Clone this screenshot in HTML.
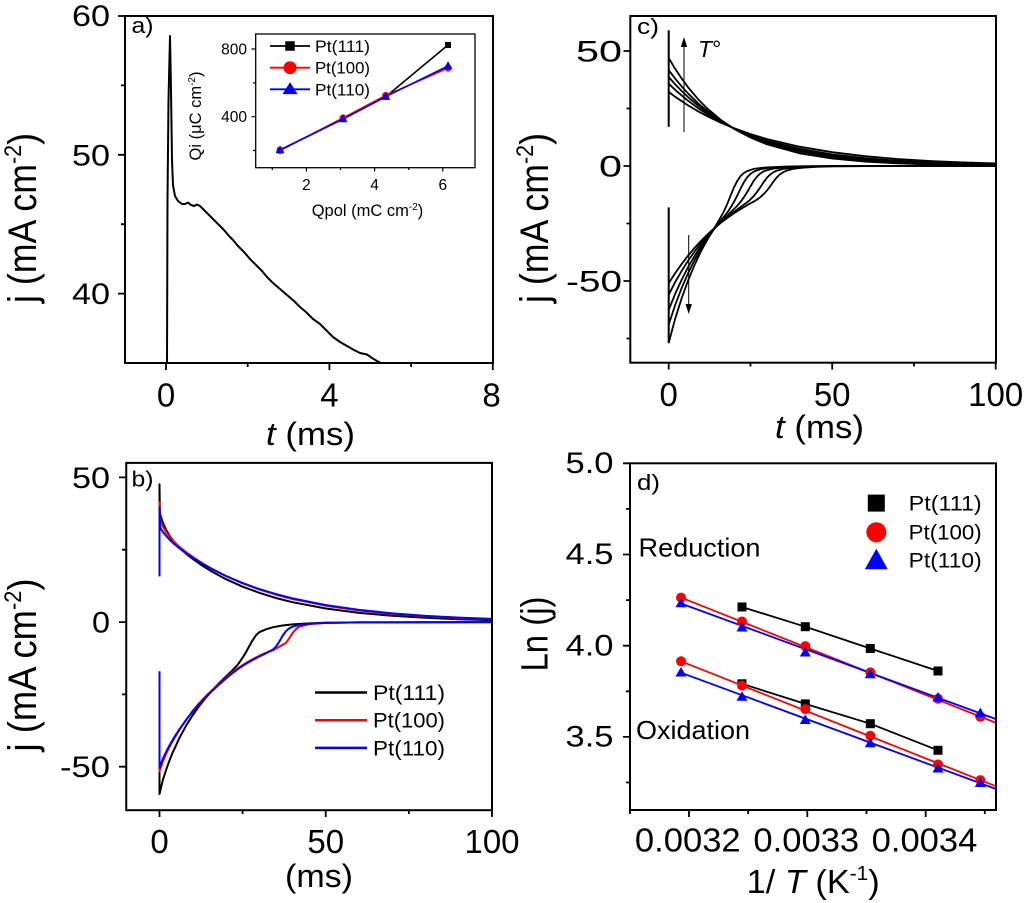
<!DOCTYPE html>
<html><head><meta charset="utf-8">
<style>
html,body{margin:0;padding:0;background:#fff;}
svg{display:block;}
text{font-family:"Liberation Sans",Arial,sans-serif;fill:#000;}
</style></head><body>
<svg width="1024" height="903" viewBox="0 0 1024 903" xmlns="http://www.w3.org/2000/svg">
<defs>
<clipPath id="ca"><rect x="125" y="16" width="368" height="347"/></clipPath>
<clipPath id="cb"><rect x="126.25" y="462.9" width="365.75" height="347.3"/></clipPath>
<clipPath id="cc"><rect x="630.3" y="16" width="365.7" height="346.7"/></clipPath>
<clipPath id="cd"><rect x="630" y="463.3" width="366" height="346.7"/></clipPath>
</defs>
<rect x="0" y="0" width="1024" height="903" fill="#fff"/>

<!-- ===== Panel a data ===== -->
<path clip-path="url(#ca)" fill="none" stroke="#000" stroke-width="2" stroke-linejoin="round" d="M167 363 L167.5 200 L168.5 100 L170 36 L171 90 L172 160 L173 185 L175 196 L178 201 L182 204 L185 204 L188 202.5 L191 205 L194 206 L197 204.5 L200 206 L203 209 L207 213 L212 218 L218 224 L224 230 L229 236 L233 240 L238 246 L244 252 L250 259 L256 265 L262 271 L267 277 L273 283 L280 289 L287 295 L294 301 L300 307 L306 312 L313 319 L320 324 L327 331 L333 337 L340 342 L347 346 L354 350 L360 353 L367 354.5 L372 358 L377 361 L382 363.5"/>

<!-- ===== Panel b data ===== -->
<g clip-path="url(#cb)" fill="none" stroke-width="2" stroke-linejoin="round">
<path stroke="#000" d="M159.5 575.8 L159.5 484.3 L159.9 512.1 L160.5 515.6 L162.8 522.4 L166.2 529.9 L169.5 535.7 L172.8 540.3 L179.5 547.7 L186.1 553.7 L192.8 558.9 L202.7 565.9 L212.7 572.0 L226.0 579.2 L242.6 586.7 L259.3 592.8 L275.9 598.0 L292.5 602.2 L325.8 608.5 L359.0 612.9 L392.3 615.8 L425.5 617.8 L458.8 619.2 L492 620.1"/>
<path stroke="#000" d="M159.5 672 L159.5 794.0 L162.8 780.1 L166.2 769.7 L169.5 760.4 L172.8 752.3 L179.5 737.8 L186.1 725.7 L192.8 715.0 L199.4 705.7 L206.1 697.3 L212.7 689.8 L219.4 682.8 L226.0 676.5 L232.7 670.1 L236.0 666.6 L239.3 662.6 L242.6 657.7 L246.0 652.2 L249.3 646.1 L252.6 640.3 L255.9 635.4 L259.3 632.2 L265.9 629.3 L272.6 627.3 L282.5 625.5 L292.5 624.4 L309.1 623.4 L325.8 622.8 L359.0 622.4 L492 622.1"/>
<path stroke="#f00" d="M159.5 575.8 L159.5 502.0 L159.9 518.8 L160.5 521.3 L162.8 526.4 L166.2 532.2 L169.5 536.8 L172.8 540.6 L179.5 546.9 L186.1 552.2 L192.8 557.0 L202.7 563.5 L212.7 569.2 L226.0 576.1 L242.6 583.3 L259.3 589.5 L275.9 594.6 L292.5 599.0 L325.8 605.7 L359.0 610.5 L392.3 613.9 L425.5 616.3 L458.8 618.0 L492 619.15"/>
<path stroke="#f00" d="M159.5 672 L159.5 771.1 L162.8 761.6 L166.2 753.7 L169.5 746.8 L172.8 740.7 L179.5 729.7 L186.1 720.2 L192.8 710.7 L199.4 702.9 L206.1 695.9 L212.7 689.6 L219.4 683.5 L226.0 677.7 L232.7 672.2 L239.3 667.3 L246.0 662.9 L252.6 659.2 L259.3 655.7 L265.9 652.8 L272.6 650.4 L275.9 648.7 L279.2 646.7 L282.5 644.9 L285.9 642.9 L289.2 638.3 L292.5 633.1 L295.8 629.3 L299.2 626.7 L309.1 624.1 L325.8 622.9 L359.0 622.4 L492 622.1"/>
<path stroke="#00f" d="M159.5 576.4 L159.5 507.2 L160.0 525.1 L160.5 528.3 L162.8 531.8 L166.2 536.0 L169.5 539.6 L172.8 542.8 L179.5 548.3 L186.1 553.3 L192.8 557.8 L202.7 563.9 L212.7 569.5 L226.0 576.0 L242.6 583.1 L259.3 589.1 L275.9 594.1 L292.5 598.4 L325.8 605.1 L359.0 609.9 L392.3 613.4 L425.5 615.85 L458.8 617.6 L492 618.9"/>
<path stroke="#00f" d="M159.5 671.3 L159.5 767.6 L162.8 759.0 L166.2 751.7 L169.5 745.4 L172.8 739.6 L179.5 729.1 L186.1 719.9 L192.8 711.5 L199.4 703.7 L206.1 696.7 L212.7 690.4 L219.4 684.3 L226.0 678.5 L232.7 673.0 L239.3 668.1 L246.0 663.7 L252.6 660.0 L259.3 656.5 L265.9 653.3 L272.6 649.8 L275.9 646.7 L279.2 641.8 L282.5 636.0 L285.9 631.3 L289.2 628.4 L292.5 626.7 L299.2 625.0 L309.1 623.8 L325.8 622.9 L359.0 622.4 L492 622.1"/>
</g>

<!-- ===== Panel c data ===== -->
<g clip-path="url(#cc)" fill="none" stroke="#000" stroke-width="1.8" stroke-linejoin="round">
<path stroke-width="2" d="M668.7 126.9 L668.7 30.3"/>
<path stroke-width="2" d="M668.7 207.4 L668.7 343.1"/>
<path d="M668.7 57.9 L675.2 68.9 L681.8 78.7 L688.3 87.6 L698.1 99.2 L707.9 109.1 L721.0 120.0 L734.1 128.9 L750.5 137.6 L766.8 144.3 L799.5 153.3 L832.2 158.5 L864.9 161.6 L897.6 163.4 L930.3 164.5 L963.0 165.1 L995.7 165.5"/>
<path d="M668.7 70.1 L675.2 78.7 L681.8 86.6 L688.3 93.7 L698.1 103.3 L707.9 111.5 L721.0 120.9 L734.1 128.7 L750.5 136.5 L766.8 142.7 L799.5 151.5 L832.2 156.9 L864.9 160.3 L897.6 162.5 L930.3 163.8 L963.0 164.6 L995.7 165.1"/>
<path d="M668.7 77.0 L675.2 84.4 L681.8 91.1 L688.3 97.3 L698.1 105.7 L707.9 113.1 L721.0 121.5 L734.1 128.6 L750.5 135.8 L766.8 141.7 L799.5 150.2 L832.2 155.8 L864.9 159.4 L897.6 161.7 L930.3 163.2 L963.0 164.2 L995.7 164.8"/>
<path d="M668.7 83.7 L675.2 89.9 L681.8 95.6 L688.3 100.9 L698.1 108.2 L707.9 114.6 L721.0 122.0 L734.1 128.4 L750.5 135.1 L766.8 140.6 L799.5 148.8 L832.2 154.4 L864.9 158.2 L897.6 160.7 L930.3 162.4 L963.0 163.6 L995.7 164.4"/>
<path d="M668.7 91.9 L675.2 96.8 L681.8 101.3 L688.3 105.5 L698.1 111.3 L707.9 116.6 L721.0 122.8 L734.1 128.2 L750.5 134.1 L766.8 139.0 L799.5 146.7 L832.2 152.2 L864.9 156.2 L897.6 159.0 L930.3 161.0 L963.0 162.4 L995.7 163.4"/>
<path d="M668.7 343.1 L672.0 330.5 L675.2 318.7 L681.8 297.8 L688.3 279.9 L694.9 264.2 L701.4 250.4 L707.9 238.8 L714.5 227.9 L721.0 216.7 L724.3 210.5 L727.6 203.1 L730.8 195.1 L734.1 187.2 L737.4 180.7 L740.6 176.0 L743.9 173.0 L747.2 171.1 L753.7 168.9 L760.3 168.0 L766.8 167.4 L783.2 166.6 L799.5 166.3 L832.2 166.05 L995.7 166"/>
<path d="M668.7 324.7 L672.0 314.6 L675.2 304.9 L681.8 287.7 L688.3 272.7 L694.9 259.4 L701.4 247.9 L707.9 237.8 L714.5 228.6 L721.0 220.4 L727.6 212.1 L730.8 207.3 L734.1 201.7 L737.4 195.3 L740.6 188.5 L743.9 182.3 L747.2 177.3 L750.5 173.9 L753.7 171.7 L757.0 170.3 L760.3 169.4 L766.8 168.1 L776.6 167.3 L786.4 166.8 L799.5 166.4 L832.2 166.1 L995.7 166"/>
<path d="M668.7 310.0 L672.0 301.7 L675.2 293.8 L681.8 279.5 L688.3 266.7 L694.9 255.4 L701.4 245.4 L707.9 236.5 L714.5 228.6 L721.0 221.6 L727.6 215.1 L734.1 208.9 L737.4 205.6 L740.6 201.8 L743.9 197.3 L747.2 192.0 L750.5 186.3 L753.7 180.9 L757.0 176.6 L760.3 173.5 L763.5 171.5 L766.8 170.2 L773.3 168.6 L783.2 167.5 L799.5 166.7 L832.2 166.1 L995.7 166"/>
<path d="M668.7 294.8 L672.0 288.3 L675.2 282.1 L681.8 270.7 L688.3 260.4 L694.9 251.1 L701.4 242.7 L707.9 235.2 L714.5 228.4 L721.0 222.2 L727.6 216.7 L734.1 211.7 L740.6 207.0 L747.2 202.2 L750.5 199.4 L753.7 196.1 L757.0 192.0 L760.3 187.3 L763.5 182.3 L766.8 177.9 L770.1 174.6 L773.3 172.3 L776.6 170.7 L783.2 168.9 L793.0 167.7 L806.0 166.9 L832.2 166.2 L995.7 166"/>
<path d="M668.7 283.3 L672.0 278.1 L675.2 273.1 L681.8 263.8 L688.3 255.3 L694.9 247.5 L701.4 240.5 L707.9 234.0 L714.5 228.1 L721.0 222.7 L727.6 217.8 L734.1 213.3 L740.6 209.1 L747.2 205.1 L753.7 201.6 L757.0 199.6 L760.3 197.2 L763.5 194.3 L766.8 190.7 L770.1 186.4 L773.3 181.8 L776.6 177.6 L779.9 174.4 L783.2 172.2 L786.4 170.7 L793.0 168.9 L802.8 167.7 L815.9 166.9 L832.2 166.4 L864.9 166.1 L995.7 166"/>
</g>

<!-- ===== Panel d data ===== -->
<g clip-path="url(#cd)">
<g fill="none" stroke-width="1.8">
<path stroke="#000" d="M742 607 L805.3 626.7 L870.3 648.5 L938 671"/>
<path stroke="#000" d="M742 683.8 L805.3 703.9 L870.3 723.7 L938 750.3"/>
<path stroke="#f00" d="M681 597.6 L996 722.9"/>
<path stroke="#f00" d="M681 661.3 L996 786.3"/>
<path stroke="#00f" d="M681 603.5 L996 719.1"/>
<path stroke="#00f" d="M681 672.7 L996 789"/>
</g>
<g fill="#000">
<rect x="737.5" y="602.5" width="9" height="9"/><rect x="800.8" y="622.2" width="9" height="9"/><rect x="865.8" y="644" width="9" height="9"/><rect x="933.5" y="666.5" width="9" height="9"/>
<rect x="737.5" y="679.3" width="9" height="9"/><rect x="800.8" y="699.4" width="9" height="9"/><rect x="865.8" y="719.2" width="9" height="9"/><rect x="933.5" y="745.8" width="9" height="9"/>
</g>
<g fill="#f00">
<circle cx="681" cy="597.6" r="5"/><circle cx="742" cy="621.5" r="5"/><circle cx="805.3" cy="646.1" r="5"/><circle cx="870.3" cy="672.4" r="5"/><circle cx="938" cy="698.7" r="5"/><circle cx="980.3" cy="716.7" r="5"/>
<circle cx="681" cy="661.3" r="5"/><circle cx="742" cy="685.6" r="5"/><circle cx="805.3" cy="709.1" r="5"/><circle cx="870.3" cy="735.8" r="5"/><circle cx="938" cy="764.5" r="5"/><circle cx="980.3" cy="780.1" r="5"/>
</g>
<g fill="#00f">
<polygon points="681,597.8 675.5,607.3 686.5,607.3"/><polygon points="742,622 736.5,631.5 747.5,631.5"/><polygon points="805.3,647 799.8,656.5 810.8,656.5"/><polygon points="870.3,668.8 864.8,678.3 875.8,678.3"/><polygon points="938,692 932.5,701.5 943.5,701.5"/><polygon points="980.3,707.6 974.8,717.1 985.8,717.1"/>
<polygon points="681,667 675.5,676.5 686.5,676.5"/><polygon points="742,691.3 736.5,700.8 747.5,700.8"/><polygon points="805.3,714.5 799.8,724 810.8,724"/><polygon points="870.3,737.7 864.8,747.2 875.8,747.2"/><polygon points="938,763 932.5,772.5 943.5,772.5"/><polygon points="980.3,777.5 974.8,787 985.8,787"/>
</g>
</g>

<!-- frames -->
<g fill="none" stroke="#000" stroke-width="2">
<rect x="125" y="16" width="368" height="347"/>
<rect x="126.25" y="462.9" width="365.75" height="347.3"/>
<rect x="630.3" y="16" width="365.7" height="346.7"/>
<rect x="630" y="463.3" width="366" height="346.7"/>
</g>
<g fill="none" stroke="#000" stroke-width="1.8">
<path d="M166 363V370 M329.4 363V370 M492.8 363V370 M247.7 363V367 M411.1 363V367 M125 16H118 M125 154.8H118 M125 293.6H118 M125 85.4H121 M125 224.2H121"/>
<path d="M159.5 810.2V817 M325.75 810.2V817 M492 810.2V817 M242.6 810.2V814 M408.9 810.2V814 M126.25 477.4H119 M126.25 622.1H119 M126.25 766.7H119 M126.25 549.7H122 M126.25 694.4H122"/>
<path d="M668.7 362.7V369.5 M832.2 362.7V369.5 M995.7 362.7V369.5 M750.45 362.7V366.5 M913.95 362.7V366.5 M630.3 51H623.5 M630.3 166H623.5 M630.3 281H623.5 M630.3 108.5H626.5 M630.3 223.5H626.5 M630.3 338.5H626.5"/>
<path d="M689 810V817 M807.3 810V817 M925.7 810V817 M630 810V814 M748.2 810V814 M866.5 810V814 M984.8 810V814 M630 463.3H623 M630 554.5H623 M630 645.7H623 M630 736.9H623 M630 508.9H626 M630 600.1H626 M630 691.3H626 M630 782.5H626"/>
</g>

<!-- ===== Inset ===== -->
<rect x="255.7" y="34" width="219.3" height="133.7" fill="#fff" stroke="#000" stroke-width="1.3"/>
<path d="M255.7 49H251.5 M255.7 116.7H251.5 M255.7 82.9H253 M255.7 150.5H253 M306.4 167.7V171.5 M374.6 167.7V171.5 M442.8 167.7V171.5 M272.3 167.7V170 M340.5 167.7V170 M408.7 167.7V170" stroke="#000" stroke-width="1.2" fill="none"/>
<g fill="none" stroke-width="1.6" stroke-linejoin="round">
<path stroke="#000" d="M280 150 L343 119 L385.7 96.7 L448 45"/>
<path stroke="#f00" d="M280 150.5 L343 118 L385.7 95.5 L448 68"/>
<path stroke="#00f" d="M280 150 L343 119 L385.7 96.7 L448 66"/>
<path stroke="#000" stroke-width="1.8" d="M270 46 H310"/>
<path stroke="#f00" stroke-width="1.8" d="M270 67.7 H310"/>
<path stroke="#00f" stroke-width="1.8" d="M270 89.3 H310"/>
</g>
<g fill="#000">
<rect x="277.25" y="147.25" width="5.5" height="5.5"/><rect x="340.25" y="116.25" width="5.5" height="5.5"/><rect x="382.95" y="93.95" width="5.5" height="5.5"/><rect x="445" y="42" width="6" height="6"/>
<rect x="285.25" y="41.25" width="9.5" height="9.5"/>
</g>
<g fill="#f00">
<circle cx="280" cy="150.5" r="3.6"/><circle cx="343" cy="118" r="3.6"/><circle cx="385.7" cy="95.5" r="3.6"/><circle cx="448" cy="68" r="3.6"/>
<circle cx="290" cy="67.7" r="6.5"/>
</g>
<g fill="#00f">
<polygon points="280,145.2 275.5,153.2 284.5,153.2"/><polygon points="343,114.2 338.5,122.2 347.5,122.2"/><polygon points="385.7,91.9 381.2,99.9 390.2,99.9"/><polygon points="448,61.2 443.5,69.2 452.5,69.2"/>
<polygon points="290,82.1 282.5,94.1 297.5,94.1"/>
</g>

<!-- Panel a text -->
<text x="110" y="26" font-size="29.5" text-anchor="end" textLength="38" lengthAdjust="spacingAndGlyphs">60</text>
<text x="110" y="165.3" font-size="29.5" text-anchor="end" textLength="38" lengthAdjust="spacingAndGlyphs">50</text>
<text x="110" y="304" font-size="29.5" text-anchor="end" textLength="38" lengthAdjust="spacingAndGlyphs">40</text>
<text x="166" y="406.5" font-size="33" text-anchor="middle">0</text>
<text x="329.4" y="406.5" font-size="33" text-anchor="middle">4</text>
<text x="491.5" y="406.5" font-size="33" text-anchor="middle">8</text>
<text x="266" y="445" font-size="32" textLength="89" lengthAdjust="spacingAndGlyphs"><tspan font-style="italic">t</tspan> (ms)</text>
<text transform="translate(36,218) scale(1.15,1) rotate(-90)" font-size="35" text-anchor="middle" textLength="170" lengthAdjust="spacingAndGlyphs">j (mA cm<tspan dy="-13" font-size="21">-2</tspan><tspan dy="13">)</tspan></text>
<text x="131.5" y="33" font-size="22" textLength="22" lengthAdjust="spacingAndGlyphs">a)</text>

<!-- inset text -->
<text x="247" y="54.5" font-size="15.5" text-anchor="end">800</text>
<text x="247" y="122" font-size="15.5" text-anchor="end">400</text>
<text x="306.4" y="190" font-size="15.5" text-anchor="middle">2</text>
<text x="374.6" y="190" font-size="15.5" text-anchor="middle">4</text>
<text x="442.8" y="190" font-size="15.5" text-anchor="middle">6</text>
<text x="311.7" y="216" font-size="16.5">Qpol (mC cm<tspan dy="-6" font-size="10">-2</tspan><tspan dy="6">)</tspan></text>
<text transform="translate(201,116) rotate(-90)" font-size="16.5" text-anchor="middle">Qi (μC cm<tspan dy="-6" font-size="10">-2</tspan><tspan dy="6">)</tspan></text>
<text x="315" y="52" font-size="16.5" textLength="55" lengthAdjust="spacingAndGlyphs">Pt(111)</text>
<text x="315" y="73.7" font-size="16.5" textLength="55" lengthAdjust="spacingAndGlyphs">Pt(100)</text>
<text x="315" y="95.3" font-size="16.5" textLength="55" lengthAdjust="spacingAndGlyphs">Pt(110)</text>

<!-- Panel b text -->
<text x="110" y="488" font-size="29.5" text-anchor="end" textLength="38" lengthAdjust="spacingAndGlyphs">50</text>
<text x="110" y="632.6" font-size="29.5" text-anchor="end" textLength="18" lengthAdjust="spacingAndGlyphs">0</text>
<text x="110" y="777.2" font-size="29.5" text-anchor="end" textLength="50" lengthAdjust="spacingAndGlyphs">-50</text>
<text x="159.5" y="853" font-size="33" text-anchor="middle">0</text>
<text x="325.75" y="853" font-size="33" text-anchor="middle">50</text>
<text x="492" y="853" font-size="33" text-anchor="middle">100</text>
<text x="319" y="887" font-size="32" text-anchor="middle" textLength="68" lengthAdjust="spacingAndGlyphs">(ms)</text>
<text transform="translate(36,665) scale(1.15,1) rotate(-90)" font-size="35" text-anchor="middle" textLength="173" lengthAdjust="spacingAndGlyphs">j (mA cm<tspan dy="-13" font-size="21">-2</tspan><tspan dy="13">)</tspan></text>
<text x="131.5" y="486.5" font-size="22" textLength="22" lengthAdjust="spacingAndGlyphs">b)</text>
<g stroke-width="2.5">
<line x1="315" y1="692.5" x2="367" y2="692.5" stroke="#000"/>
<line x1="315" y1="720.2" x2="367" y2="720.2" stroke="#f00"/>
<line x1="315" y1="747.9" x2="367" y2="747.9" stroke="#00f"/>
</g>
<text x="373" y="700" font-size="21" textLength="72" lengthAdjust="spacingAndGlyphs">Pt(111)</text>
<text x="373" y="727.7" font-size="21" textLength="72" lengthAdjust="spacingAndGlyphs">Pt(100)</text>
<text x="373" y="755.4" font-size="21" textLength="72" lengthAdjust="spacingAndGlyphs">Pt(110)</text>

<!-- Panel c text -->
<text x="622" y="61.5" font-size="29.5" text-anchor="end" textLength="46" lengthAdjust="spacingAndGlyphs">50</text>
<text x="622" y="176.5" font-size="29.5" text-anchor="end" textLength="23" lengthAdjust="spacingAndGlyphs">0</text>
<text x="622" y="291.5" font-size="29.5" text-anchor="end" textLength="56" lengthAdjust="spacingAndGlyphs">-50</text>
<text x="668.7" y="406" font-size="33" text-anchor="middle">0</text>
<text x="832.2" y="406" font-size="33" text-anchor="middle">50</text>
<text x="995.7" y="406" font-size="33" text-anchor="middle">100</text>
<text x="775" y="438" font-size="32" textLength="89" lengthAdjust="spacingAndGlyphs"><tspan font-style="italic">t</tspan> (ms)</text>
<text transform="translate(548,218) scale(1.15,1) rotate(-90)" font-size="35" text-anchor="middle" textLength="170" lengthAdjust="spacingAndGlyphs">j (mA cm<tspan dy="-13" font-size="21">-2</tspan><tspan dy="13">)</tspan></text>
<text x="637" y="34" font-size="22" textLength="22" lengthAdjust="spacingAndGlyphs">c)</text>
<g stroke="#000" stroke-width="1">
<line x1="684" y1="132" x2="684" y2="45"/>
<line x1="688.7" y1="235" x2="688.7" y2="306"/>
</g>
<polygon points="684,37 680.8,47 687.2,47" fill="#000"/>
<polygon points="688.7,314 685.5,304 691.9,304" fill="#000"/>
<text x="698" y="57" font-size="23"><tspan font-style="italic">T</tspan>°</text>

<!-- Panel d text -->
<text x="613.5" y="473" font-size="29.5" text-anchor="end" textLength="48" lengthAdjust="spacingAndGlyphs">5.0</text>
<text x="613.5" y="564" font-size="29.5" text-anchor="end" textLength="48" lengthAdjust="spacingAndGlyphs">4.5</text>
<text x="613.5" y="655.5" font-size="29.5" text-anchor="end" textLength="48" lengthAdjust="spacingAndGlyphs">4.0</text>
<text x="613.5" y="746.5" font-size="29.5" text-anchor="end" textLength="48" lengthAdjust="spacingAndGlyphs">3.5</text>
<text x="687.8" y="851.5" font-size="33" text-anchor="middle" textLength="105.7" lengthAdjust="spacingAndGlyphs">0.0032</text>
<text x="806.3" y="851.5" font-size="33" text-anchor="middle" textLength="105.7" lengthAdjust="spacingAndGlyphs">0.0033</text>
<text x="924.5" y="851.5" font-size="33" text-anchor="middle" textLength="105.7" lengthAdjust="spacingAndGlyphs">0.0034</text>
<text x="746.7" y="893" font-size="33" textLength="133" lengthAdjust="spacingAndGlyphs">1/ <tspan font-style="italic">T</tspan> (K<tspan dy="-13" font-size="20">-1</tspan><tspan dy="13">)</tspan></text>
<text transform="translate(547.7,634) scale(1.15,1) rotate(-90)" font-size="33" text-anchor="middle" textLength="75" lengthAdjust="spacingAndGlyphs">Ln (j)</text>
<text x="637" y="490" font-size="22" textLength="23" lengthAdjust="spacingAndGlyphs">d)</text>
<text x="638.5" y="556.7" font-size="26" textLength="122" lengthAdjust="spacingAndGlyphs">Reduction</text>
<text x="636" y="739" font-size="26" textLength="114" lengthAdjust="spacingAndGlyphs">Oxidation</text>
<rect x="867.8" y="494.6" width="17" height="17" fill="#000"/>
<circle cx="876.3" cy="532.2" r="10" fill="#f00"/>
<polygon points="876.3,548.8 864.8,569.2 887.8,569.2" fill="#00f"/>
<text x="908.7" y="510.6" font-size="21" textLength="73" lengthAdjust="spacingAndGlyphs">Pt(111)</text>
<text x="908.7" y="539.7" font-size="21" textLength="73" lengthAdjust="spacingAndGlyphs">Pt(100)</text>
<text x="908.7" y="567.3" font-size="21" textLength="73" lengthAdjust="spacingAndGlyphs">Pt(110)</text>
</svg>
</body></html>
